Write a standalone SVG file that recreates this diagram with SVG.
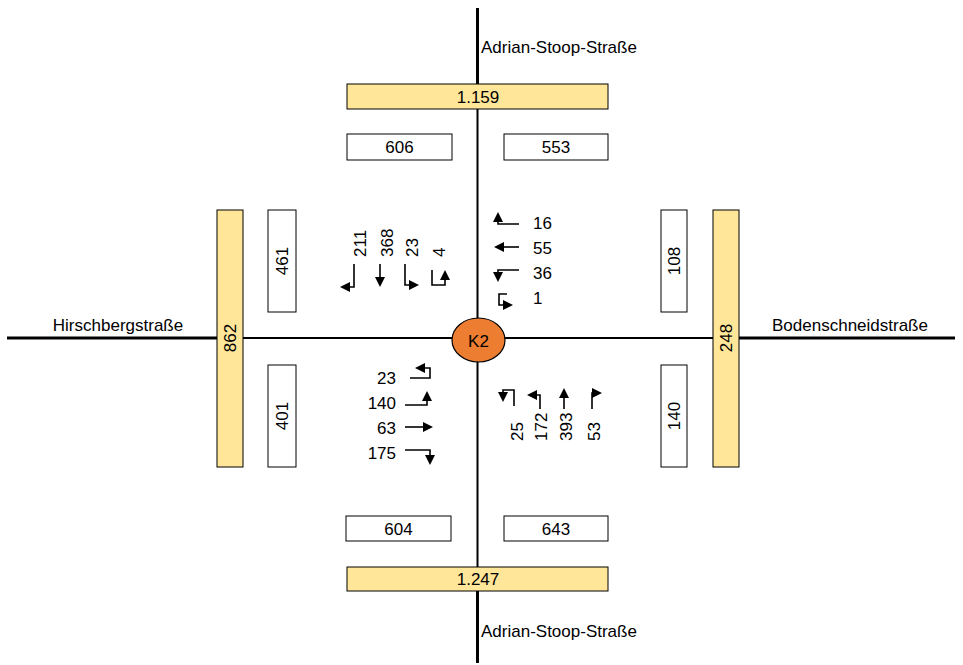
<svg xmlns="http://www.w3.org/2000/svg" width="963" height="665" viewBox="0 0 963 665">
<style>
text{font-family:"Liberation Sans",Arial,sans-serif;font-size:17px;fill:#000}
.road{stroke:#000;fill:none}
.sum{fill:#FFE699;stroke:#000;stroke-width:1}
.box{fill:#fff;stroke:#000;stroke-width:1}
.arr{fill:none;stroke:#000;stroke-width:1.6;marker-end:url(#ah)}
.m{text-anchor:middle}
.e{text-anchor:end}
</style>
<defs>
<marker id="ah" viewBox="0 0 10 10" markerUnits="userSpaceOnUse" markerWidth="10" markerHeight="10" refX="2" refY="5" orient="auto">
<path d="M0,0 L10,5 L0,10 z" fill="#000"/>
</marker>
</defs>
<rect width="963" height="665" fill="#fff"/>
<g id="roads">
<path class="road" stroke-width="3" d="M477.5,8 V84 M477.5,591 V663 M7,338 H217 M739,338 H955"/>
<path class="road" stroke-width="2" d="M477.5,109 V567 M243,338 H713"/>
</g>
<g id="labels-streets">
<text x="481" y="53">Adrian-Stoop-Straße</text>
<text x="481" y="637">Adrian-Stoop-Straße</text>
<text class="m" x="118" y="331">Hirschbergstraße</text>
<text class="m" x="850" y="331">Bodenschneidstraße</text>
</g>
<g id="sum-north"><rect class="sum" x="347" y="84" width="261" height="25"/><text class="m" x="478" y="102.5">1.159</text></g>
<g id="sum-south"><rect class="sum" x="347" y="567" width="261" height="24"/><text class="m" x="478" y="585">1.247</text></g>
<g id="sum-west"><rect class="sum" x="217" y="210" width="26" height="257"/><text class="m" transform="translate(236,338) rotate(-90)">862</text></g>
<g id="sum-east"><rect class="sum" x="713" y="210" width="26" height="257"/><text class="m" transform="translate(732,338) rotate(-90)">248</text></g>
<g id="box-n-out"><rect class="box" x="347" y="134" width="105" height="26"/><text class="m" x="399.5" y="153">606</text></g>
<g id="box-n-in"><rect class="box" x="504" y="134" width="104" height="26"/><text class="m" x="556" y="153">553</text></g>
<g id="box-s-out"><rect class="box" x="346" y="516" width="105" height="25"/><text class="m" x="398.5" y="534.5">604</text></g>
<g id="box-s-in"><rect class="box" x="504" y="516" width="104" height="25"/><text class="m" x="556" y="534.5">643</text></g>
<g id="box-w-in"><rect class="box" x="268" y="210" width="28" height="102"/><text class="m" transform="translate(288,261) rotate(-90)">461</text></g>
<g id="box-w-out"><rect class="box" x="268" y="365" width="28" height="102"/><text class="m" transform="translate(288,416) rotate(-90)">401</text></g>
<g id="box-e-out"><rect class="box" x="661" y="210" width="26" height="102"/><text class="m" transform="translate(680,261) rotate(-90)">108</text></g>
<g id="box-e-in"><rect class="box" x="661" y="365" width="26" height="102"/><text class="m" transform="translate(680,416) rotate(-90)">140</text></g>
<g id="node-K2"><ellipse cx="478.5" cy="340" rx="26.5" ry="22" fill="#ED7D31" stroke="#000" stroke-width="1.2"/><text class="m" x="478.5" y="346.5">K2</text></g>
<g id="connectors">
<path class="arr" d="M354,264 V287 H348"/>
<path class="arr" d="M380,264 V279"/>
<path class="arr" d="M405,264 V285 H411"/>
<path class="arr" d="M432,270 V285 H445 V278"/>
<path class="arr" d="M519,224 H498 V220"/>
<path class="arr" d="M519,247 H502"/>
<path class="arr" d="M519,270 H498 V274"/>
<path class="arr" d="M507,294 H499 V305 H505"/>
<path class="arr" d="M410,378 H430 V368 H423"/>
<path class="arr" d="M405,405 H427 V399"/>
<path class="arr" d="M405,427 H425"/>
<path class="arr" d="M405,450 H430 V457"/>
<path class="arr" d="M514,406 V390 H503 V394"/>
<path class="arr" d="M540,409 V395 H535"/>
<path class="arr" d="M564,409 V396"/>
<path class="arr" d="M592,409 V393 H594"/>
</g>
<g id="volumes-north">
<text transform="translate(366,257) rotate(-90)">211</text>
<text transform="translate(393,257) rotate(-90)">368</text>
<text transform="translate(418,257) rotate(-90)">23</text>
<text transform="translate(445,257) rotate(-90)">4</text>
</g>
<g id="volumes-east">
<text x="533" y="229">16</text>
<text x="533" y="254">55</text>
<text x="533" y="279">36</text>
<text x="533" y="304">1</text>
</g>
<g id="volumes-west">
<text class="e" x="396" y="384">23</text>
<text class="e" x="396" y="409">140</text>
<text class="e" x="396" y="434">63</text>
<text class="e" x="396" y="459">175</text>
</g>
<g id="volumes-south">
<text transform="translate(523,441) rotate(-90)">25</text>
<text transform="translate(547,441) rotate(-90)">172</text>
<text transform="translate(572,441) rotate(-90)">393</text>
<text transform="translate(600,441) rotate(-90)">53</text>
</g>
</svg>
